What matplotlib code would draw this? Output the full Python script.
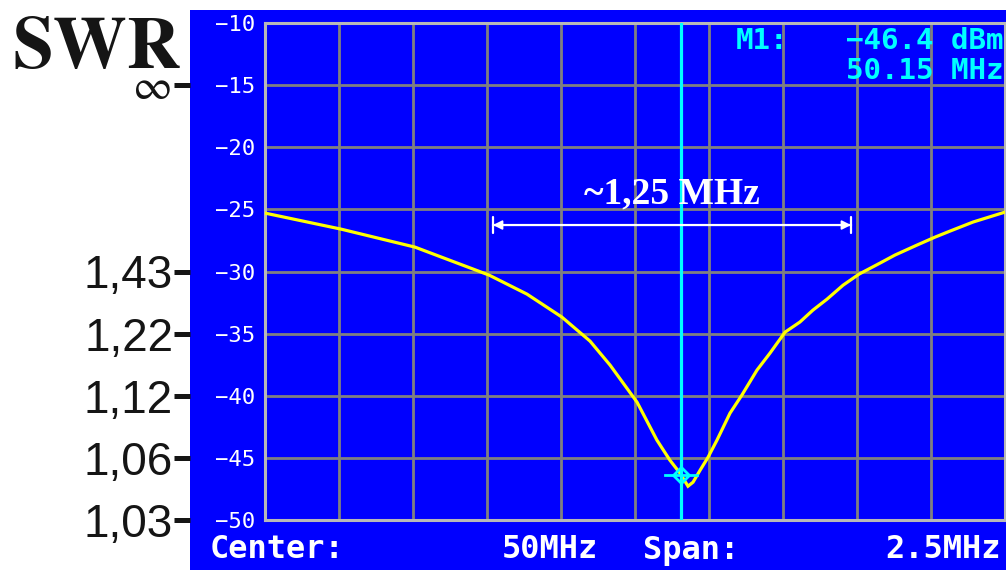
import numpy as np
import matplotlib
matplotlib.use('Agg')
import matplotlib.pyplot as plt
from matplotlib.patches import Rectangle
from matplotlib.lines import Line2D
import matplotlib.transforms as mtransforms

plt.rcParams['mathtext.fontset'] = 'stix'

# ---------------- data ----------------
freq_mhz = [48.750, 49.007, 49.257, 49.507, 49.635, 49.753, 49.848, 49.916,
            50.007, 50.074, 50.118, 50.152, 50.179, 50.196, 50.220, 50.247,
            50.277, 50.321, 50.361, 50.412, 50.456, 50.507, 50.557, 50.601,
            50.649, 50.703, 50.757, 50.828, 50.878, 50.953, 51.014, 51.064,
            51.142, 51.250]
level_dbm = [-25.30, -26.59, -28.04, -30.29, -31.82, -33.67, -35.60, -37.54,
             -40.52, -43.57, -45.19, -46.23, -47.28, -46.96, -45.99, -44.94,
             -43.57, -41.40, -39.95, -37.94, -36.57, -34.88, -34.07, -33.11,
             -32.22, -31.10, -30.21, -29.32, -28.68, -27.87, -27.23, -26.75,
             -26.02, -25.22]

db_ticks = [-10, -15, -20, -25, -30, -35, -40, -45, -50]
db_tick_labels = ['−10', '−15', '−20', '−25', '−30', '−35', '−40', '−45', '−50']

swr_positions_db = [-15, -30, -35, -40, -45, -50]
swr_labels = ['∞', '1,43', '1,22', '1,12', '1,06', '1,03']

center_mhz = 50.0
span_mhz = 2.5
n_div = 10

marker_freq = 50.155
marker_level = -46.4
marker_texts = ['M1:', '−46.4 dBm', '50.15 MHz']

bw_start, bw_end = 49.52, 50.73
bw_level = -26.26
bw_label = '~1,25 MHz'

footer = ['Center:', '50MHz', 'Span:', '2.5MHz']

# ---------------- figure ----------------
W, H = 1006, 570
fig = plt.figure(figsize=(W / 100, H / 100), dpi=100)
fig.patch.set_facecolor('white')

BLUE = '#0000ff'
CYAN = '#00ffff'
panel = Rectangle((190 / W, 0), 1 - 190 / W, (H - 10) / H,
                  transform=fig.transFigure, facecolor=BLUE,
                  edgecolor='none', zorder=-10)
fig.patches.append(panel)

ax = fig.add_axes([265 / W, 50 / H, 740 / W, 497 / H])
ax.set_zorder(5)
ax.set_facecolor(BLUE)
f0 = center_mhz - span_mhz / 2
f1 = center_mhz + span_mhz / 2
ax.set_xlim(f0, f1)
ax.set_ylim(-50, -10)
ax.set_xticks(np.linspace(f0, f1, n_div + 1))
ax.set_xticklabels([])
ax.set_yticks(db_ticks)
ax.set_yticklabels(db_tick_labels, color='white', family='DejaVu Sans Mono',
                   fontsize=16)
ax.tick_params(axis='both', length=0)
ax.tick_params(axis='y', pad=7)
ax.grid(True, color='#808080', lw=2.0, zorder=1)
ax.set_axisbelow(True)
for s in ax.spines.values():
    s.set_color('#b8b8b8')
    s.set_linewidth(2.2)

# trace
ax.plot(freq_mhz, level_dbm, color='#ffff00', lw=2.3, zorder=3,
        solid_joinstyle='miter')

# marker line and marker
ax.axvline(marker_freq, color=CYAN, lw=2.3, zorder=4)
ax.plot([marker_freq - 0.055, marker_freq + 0.055], [marker_level, marker_level],
        color=CYAN, lw=2.0, zorder=5)
ax.plot([marker_freq], [marker_level], marker='D', markersize=8,
        markerfacecolor='none', markeredgecolor=CYAN, markeredgewidth=2.0,
        zorder=5)

# bandwidth arrow
ax.annotate('', xy=(bw_start, bw_level), xytext=(bw_end, bw_level),
            arrowprops=dict(arrowstyle='<|-|>', color='white', lw=1.2,
                            mutation_scale=14, shrinkA=0, shrinkB=0), zorder=6)
ax.annotate('', xy=(bw_start, bw_level), xytext=(bw_end, bw_level),
            arrowprops=dict(arrowstyle='|-|', color='white', lw=1.6,
                            mutation_scale=6, shrinkA=0, shrinkB=0), zorder=6)
ax.text((bw_start + bw_end) / 2, bw_level + 2.5, bw_label, color='white',
        family='Liberation Serif', fontweight='bold', fontsize=27,
        ha='center', va='center', zorder=7)

# marker readout
mkw = dict(color=CYAN, family='DejaVu Sans Mono', fontweight='bold',
           fontsize=21, va='center', zorder=10)
fig.text(736 / W, 1 - 41 / H, marker_texts[0], ha='left', **mkw)
fig.text(1003 / W, 1 - 41 / H, marker_texts[1], ha='right', **mkw)
fig.text(1003 / W, 1 - 71 / H, marker_texts[2], ha='right', **mkw)

# footer
fy = 1 - 550 / H
fkw = dict(color='white', family='DejaVu Sans Mono', fontweight='bold',
           fontsize=23, va='center', zorder=10)
fig.text(210 / W, fy, footer[0], ha='left', **fkw)
fig.text(598 / W, fy, footer[1], ha='right', **fkw)
fig.text(643 / W, fy, footer[2], ha='left', **fkw)
fig.text(1001 / W, fy, footer[3], ha='right', **fkw)

# SWR scale on the left
fig.text(12 / W, 1 - 68 / H, r'$\mathbf{SWR}$', color='#151515',
         fontsize=53, ha='left', va='baseline')
trans = mtransforms.blended_transform_factory(fig.transFigure, ax.transData)
num_off = mtransforms.ScaledTranslation(0, -17 / 100, fig.dpi_scale_trans)
inf_off = mtransforms.ScaledTranslation(0, -2 / 100, fig.dpi_scale_trans)
for pos, lab in zip(swr_positions_db, swr_labels):
    if lab == '∞':
        fig.text(171 / W, pos, r'$\infty$', transform=trans + inf_off,
                 color='#151515', fontsize=31, ha='right', va='center')
    else:
        fig.text(173 / W, pos, lab, transform=trans + num_off, color='#151515',
                 family='Liberation Sans', fontsize=33, ha='right',
                 va='baseline')
    fig.add_artist(Line2D([174 / W, 190 / W], [pos, pos], transform=trans,
                          color='#151515', lw=3.6, solid_capstyle='butt'))

fig.savefig('out.png', dpi=100)
